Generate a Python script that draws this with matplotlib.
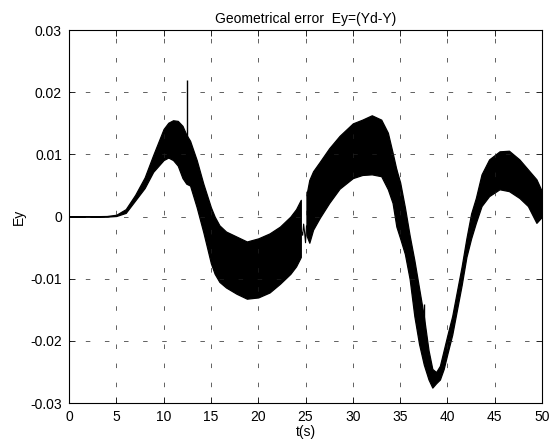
import matplotlib
matplotlib.use("Agg")
import matplotlib.pyplot as plt
import numpy as np

# envelope of the fast oscillating error
# first part: t = 0 .. 24.5 s
t1 = [0, 4, 5, 6, 7, 8, 8.9, 10, 10.5, 11, 11.5, 12, 12.4, 12.8, 13.5,
      14.2, 15, 15.4, 15.9, 16.6, 17.7, 18.8, 20, 21.2, 22.3, 23.4, 24.0, 24.5]
up1 = [0, 0.0001, 0.0003, 0.0012, 0.0035, 0.0063, 0.0099, 0.0141, 0.0151, 0.0155,
       0.0154, 0.0146, 0.0132, 0.0122, 0.0091, 0.0053, 0.0015, 0.0, -0.0014,
       -0.0024, -0.0032, -0.0040, -0.0035, -0.0027, -0.0016, 0.0, 0.0012, 0.0027]
lo1 = [0, 0.0, 0.0001, 0.0006, 0.0026, 0.0046, 0.0072, 0.0091, 0.0095, 0.0091,
       0.0082, 0.0062, 0.0053, 0.0050, 0.0015, -0.0025, -0.0075, -0.0092, -0.0105,
       -0.0114, -0.0124, -0.0132, -0.0130, -0.0122, -0.0108, -0.0092, -0.0080, -0.0065]

# small glitch between the two parts
t_gap = [24.5, 24.7, 24.8, 24.9, 25.0, 25.1]
e_gap = [-0.0020, -0.0030, -0.0012, -0.0025, -0.0042, -0.0015]

# second part: t = 25.1 .. 50 s
t2 = [25.1, 25.4, 25.8, 26.5, 27.5, 28.6, 30, 31, 32, 33, 33.7, 34.2, 34.6,
      35, 35.5, 36, 36.5, 37, 37.5, 38, 38.4, 38.8, 39.2, 39.6, 40, 40.5, 41,
      41.5, 42, 42.5, 43, 43.6, 44.4, 45.5, 46.5, 47.6, 48.5, 49.4, 50]
up2 = [0.0035, 0.0059, 0.0073, 0.0088, 0.0110, 0.0130, 0.0150, 0.0156, 0.0163,
       0.0156, 0.0135, 0.0103, 0.0076, 0.0055, 0.0015, -0.0030, -0.0070, -0.0115,
       -0.0160, -0.0215, -0.0245, -0.0250, -0.0240, -0.0215, -0.0190, -0.0160,
       -0.0120, -0.0080, -0.0035, 0.0005, 0.0030, 0.0068, 0.0092, 0.0105, 0.0106,
       0.0092, 0.0076, 0.0060, 0.0040]
lo2 = [-0.0030, -0.0042, -0.0021, -0.0002, 0.0022, 0.0045, 0.0062, 0.0067, 0.0068,
       0.0065, 0.0044, 0.0022, -0.0016, -0.0035, -0.0060, -0.0100, -0.0160, -0.0205,
       -0.0238, -0.0262, -0.0275, -0.0268, -0.0262, -0.0245, -0.0220, -0.0190,
       -0.0150, -0.0110, -0.0065, -0.0035, -0.0010, 0.0017, 0.0033, 0.0044, 0.0041,
       0.0030, 0.0017, -0.0010, 0.0]

# isolated spikes (time, from, to)
spike_t = [12.45, 37.5, 34.6, 49.5]
spike_a = [0.0125, -0.0230, 0.0076, 0.0]
spike_b = [0.0220, -0.0140, 0.0030, 0.0030]

plt.rcParams['font.family'] = ['Liberation Sans', 'DejaVu Sans']
plt.rcParams['font.size'] = 10

fig = plt.figure(figsize=(5.56, 4.43), dpi=100)
ax = fig.add_axes([0.124, 0.090, 0.851, 0.842])

for t, u, l in [(t1, up1, lo1), (t2, up2, lo2)]:
    ax.fill_between(t, l, u, color='k', linewidth=0.9, edgecolor='k')
ax.plot(t_gap, e_gap, color='k', lw=0.8)
ax.vlines(spike_t, spike_a, spike_b, color='k', lw=1.0)

ax.set_xlim(0, 50)
ax.set_ylim(-0.03, 0.03)
ax.set_xticks(np.arange(0, 51, 5))
ax.set_yticks([-0.03, -0.02, -0.01, 0, 0.01, 0.02, 0.03])
ax.set_yticklabels(['-0.03', '-0.02', '-0.01', '0', '0.01', '0.02', '0.03'])
ax.grid(True, color='#222222', linestyle=(4, (6.5, 21)), linewidth=0.5)
ax.tick_params(direction='in', top=True, right=True, length=4, width=0.6, pad=5)
for s in ax.spines.values():
    s.set_linewidth(0.8)

ax.set_title("Geometrical error  Ey=(Yd-Y)", fontsize=10, pad=5)
ax.set_xlabel("t(s)", labelpad=1)
ax.set_ylabel("Ey", labelpad=3)

fig.savefig("out.png", dpi=100)
